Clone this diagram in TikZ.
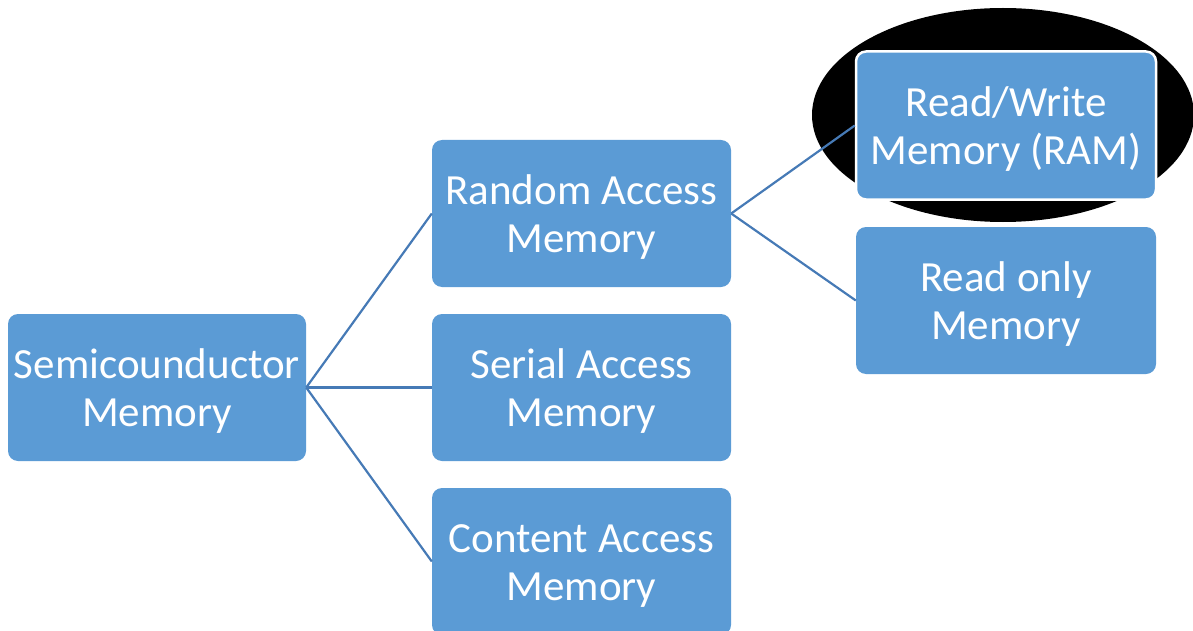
\documentclass[tikz,border=0pt]{standalone}
\usepackage{fontspec}
\setmainfont{Carlito}
\definecolor{boxblue}{RGB}{91,155,213}
\definecolor{linkblue}{RGB}{70,122,182}
% two centred lines, lowered a little while keeping their box size
\newcommand{\boxlines}[2]{\raisebox{-5pt}[\height][\depth]{\begin{tabular}{@{}c@{}}#1\\#2\end{tabular}}}
\begin{document}
\begin{tikzpicture}[x=1pt,y=-1pt,
  box/.style={rectangle, rounded corners=10pt, fill=boxblue, text=white,
    minimum width=299pt, minimum height=147pt, inner sep=0pt,
    font=\fontsize{43}{48}\selectfont},
  link/.style={draw=linkblue, line width=2.2pt}]
\useasboundingbox (0,0) rectangle (1193,631);
\clip (0,0) rectangle (1193,631);
% black highlight behind the RAM box
\fill[black] (1003,115) ellipse [x radius=191, y radius=107];
% boxes
\node[box, minimum width=298pt] (semi) at (157,387.5) {\boxlines{Semicounductor}{Memory}};
\node[box] (ram) at (581.5,213.5) {\boxlines{Random Access}{Memory}};
\node[box] (sam) at (581.5,387.5) {\boxlines{Serial Access}{Memory}};
\node[box] (cam) at (581.5,561.5) {\boxlines{Content Access}{Memory}};
\node[box, draw=white, line width=2.5pt, minimum width=300pt, minimum height=148pt] (rw) at (1006,125.5) {\boxlines{Read/Write}{Memory (RAM)}};
\node[box, minimum width=300pt] (ro) at (1006,300.5) {\boxlines{Read only}{Memory}};
% connectors
\draw[link] (semi.east) -- (ram.west);
\draw[link] (semi.east) -- (sam.west);
\draw[link] (semi.east) -- (cam.west);
\draw[link] (ram.east) -- (rw.west);
\draw[link] (ram.east) -- (ro.west);
\end{tikzpicture}
\end{document}
